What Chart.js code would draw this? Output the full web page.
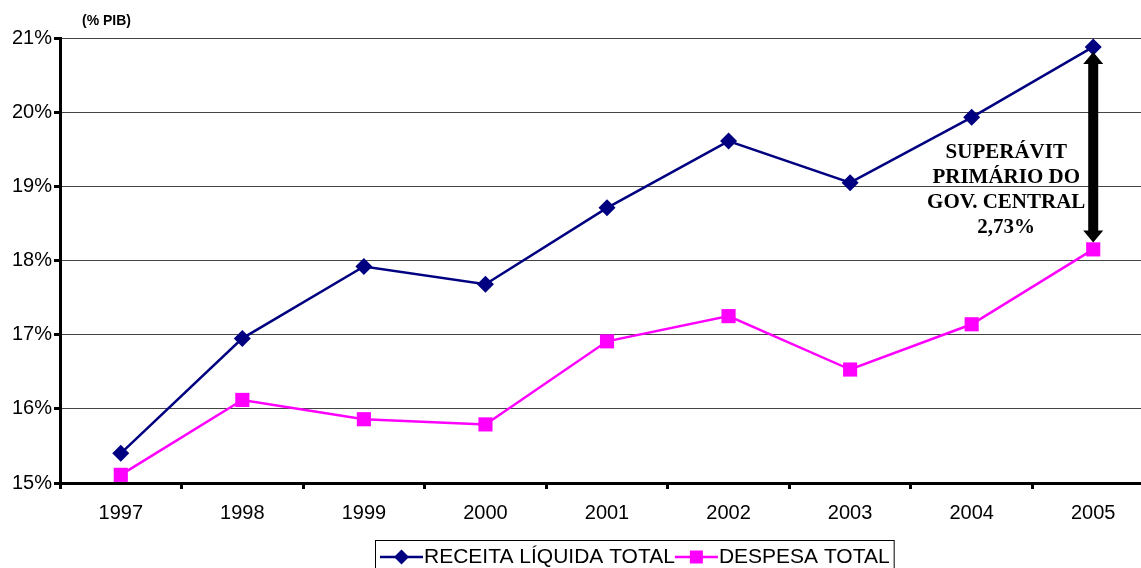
<!DOCTYPE html>
<html>
<head>
<meta charset="utf-8">
<script src="https://cdn.jsdelivr.net/npm/chart.js@4"></script>
<style>
  html, body { margin: 0; padding: 0; background: #fff; overflow: hidden; }
  #chart { display: block; }
</style>
</head>
<body>
<canvas id="chart" width="1164" height="568"></canvas>
<script>
// dados (% do PIB)
const years = ['1997', '1998', '1999', '2000', '2001', '2002', '2003', '2004', '2005'];
const receita = [15.40, 16.95, 17.92, 17.68, 18.71, 19.61, 19.05, 19.93, 20.88];
const despesa = [15.11, 16.12, 15.86, 15.79, 16.91, 17.25, 16.53, 17.14, 18.15];
const yTicks = [15, 16, 17, 18, 19, 20, 21];
const unitLabel = '(% PIB)';
const noteLines = ['SUPERÁVIT', 'PRIMÁRIO DO', 'GOV. CENTRAL', '2,73%'];

const NAVY = '#000080';
const PINK = '#FF00FF';

// rótulo da unidade, seta e texto do superávit
const notesPlugin = {
    id: 'notes',
    afterDraw(chart) {
        const ctx = chart.ctx;
        const x = chart.scales.x;
        const y = chart.scales.y;
        const last = years.length - 1;

        ctx.save();
        ctx.fillStyle = '#000';
        ctx.font = 'bold 14px Arial, "Liberation Sans", sans-serif';
        ctx.textBaseline = 'middle';
        ctx.textAlign = 'left';
        ctx.fillText(unitLabel, 82, 21);

        // seta dupla entre receita e despesa em 2005
        const ax = x.getPixelForValue(last);
        const top = y.getPixelForValue(receita[last]) + 5;
        const bot = y.getPixelForValue(despesa[last]) - 7;
        const shaft = 5, head = 10, headLen = 12;
        ctx.beginPath();
        ctx.moveTo(ax, top);
        ctx.lineTo(ax + head, top + headLen);
        ctx.lineTo(ax + shaft, top + headLen);
        ctx.lineTo(ax + shaft, bot - headLen);
        ctx.lineTo(ax + head, bot - headLen);
        ctx.lineTo(ax, bot);
        ctx.lineTo(ax - head, bot - headLen);
        ctx.lineTo(ax - shaft, bot - headLen);
        ctx.lineTo(ax - shaft, top + headLen);
        ctx.lineTo(ax - head, top + headLen);
        ctx.closePath();
        ctx.fill();

        ctx.font = 'bold 21px "Liberation Serif", "Times New Roman", serif';
        ctx.textAlign = 'center';
        const cx = ax - 87;
        const midY = (top + bot) / 2;
        const lh = 25;
        noteLines.forEach((t, i) => {
            ctx.fillText(t, cx, midY + 5 + i * lh);
        });
        ctx.restore();
    }
};

// legenda em caixa, com linha e marcador
const legendPlugin = {
    id: 'boxLegend',
    afterDraw(chart) {
        const ctx = chart.ctx;
        ctx.save();
        ctx.font = '21px Arial, "Liberation Sans", sans-serif';
        ctx.textBaseline = 'middle';
        ctx.textAlign = 'left';
        const cy = 557;
        const segW = 43;
        let cx = 380;
        const startX = 375;
        chart.data.datasets.forEach(ds => {
            ctx.strokeStyle = ds.borderColor;
            ctx.lineWidth = 2.5;
            ctx.beginPath();
            ctx.moveTo(cx, cy);
            ctx.lineTo(cx + segW, cy);
            ctx.stroke();
            ctx.fillStyle = ds.backgroundColor;
            const mx = cx + segW / 2;
            ctx.beginPath();
            if (ds.pointStyle === 'rectRot') {
                ctx.moveTo(mx, cy - 7.5);
                ctx.lineTo(mx + 7.5, cy);
                ctx.lineTo(mx, cy + 7.5);
                ctx.lineTo(mx - 7.5, cy);
                ctx.closePath();
            } else {
                ctx.rect(mx - 6.5, cy - 6.5, 13, 13);
            }
            ctx.fill();
            ctx.fillStyle = '#000';
            ctx.fillText(ds.label, cx + segW + 1, cy);
            cx += segW + 1 + ctx.measureText(ds.label).width;
        });
        ctx.strokeStyle = '#000';
        ctx.lineWidth = 1;
        ctx.strokeRect(startX + 0.5, 540.5, cx + 4 - startX, 40);
        ctx.restore();
    }
};

const ctx = document.getElementById('chart').getContext('2d');
new Chart(ctx, {
    type: 'line',
    data: {
        labels: years,
        datasets: [{
            label: 'RECEITA LÍQUIDA TOTAL',
            data: receita,
            borderColor: NAVY,
            backgroundColor: NAVY,
            borderWidth: 2.5,
            pointStyle: 'rectRot',
            pointRadius: 8.5,
            pointHoverRadius: 8.5,
            pointBorderWidth: 0,
            tension: 0
        }, {
            label: 'DESPESA TOTAL',
            data: despesa,
            borderColor: PINK,
            backgroundColor: PINK,
            borderWidth: 2.5,
            pointStyle: 'rect',
            pointRadius: 10,
            pointHoverRadius: 10,
            pointBorderWidth: 0,
            tension: 0
        }]
    },
    options: {
        responsive: false,
        animation: false,
        layout: { padding: { top: 38, left: 0, right: 0, bottom: 0 } },
        plugins: {
            legend: { display: false },
            tooltip: { enabled: false }
        },
        scales: {
            x: {
                offset: true,
                grid: {
                    offset: true,
                    drawOnChartArea: false,
                    drawTicks: true,
                    tickLength: 6,
                    tickWidth: 3,
                    tickColor: '#000'
                },
                border: { color: '#000', width: 3 },
                ticks: {
                    color: '#000',
                    padding: 12,
                    maxRotation: 0,
                    font: { family: 'Arial, "Liberation Sans", sans-serif', size: 20 }
                },
                afterFit(scale) { scale.height = 85; }
            },
            y: {
                min: yTicks[0],
                max: yTicks[yTicks.length - 1],
                afterBuildTicks(scale) { scale.ticks = yTicks.map(v => ({ value: v })); },
                grid: {
                    color: '#444',
                    lineWidth: 1,
                    drawTicks: true,
                    tickLength: 6,
                    tickWidth: 3,
                    tickColor: '#000'
                },
                border: { color: '#000', width: 3 },
                ticks: {
                    color: '#000',
                    padding: 2,
                    callback: v => v + '%',
                    font: { family: 'Arial, "Liberation Sans", sans-serif', size: 20 }
                },
                afterFit(scale) { scale.width = 60; }
            }
        }
    },
    plugins: [notesPlugin, legendPlugin]
});
</script>
</body>
</html>
